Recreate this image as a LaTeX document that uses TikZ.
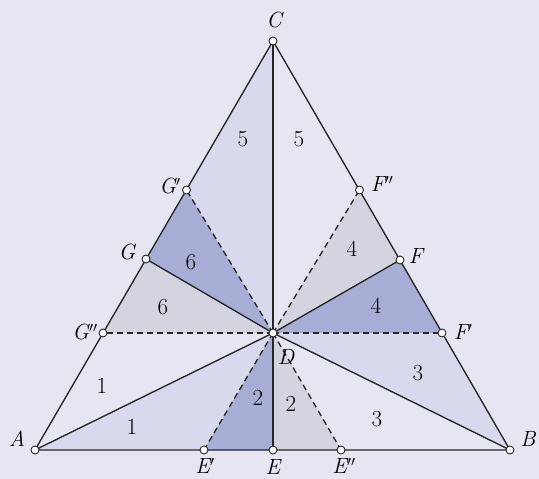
\documentclass[tikz,border=0pt]{standalone}
\usepackage{fontspec}
\begin{document}
\begin{tikzpicture}[x=1pt,y=-1pt,
  edge/.style={line width=1.35pt,black!85},
  dline/.style={line width=1.35pt,black!85,dash pattern=on 6pt off 4pt},
  pt/.style={circle,draw=black!85,line width=0.9pt,fill=white,inner sep=0pt,minimum size=8pt},
  lab/.style={font=\fontsize{22}{25}\selectfont\itshape,inner sep=0pt},
  num/.style={font=\fontsize{23}{26}\selectfont,inner sep=0pt}]
\definecolor{bgc}{HTML}{E5E6F2}
\definecolor{lav}{HTML}{D8D9EC}
\definecolor{dark}{HTML}{A8ADD5}
\definecolor{lgray}{HTML}{D3D4E0}
\fill[bgc] (0,0) rectangle (539,479);
\useasboundingbox (0,0) rectangle (539,479);
\coordinate (A) at (35,450);
\coordinate (B) at (510,450);
\coordinate (C) at (273,41);
\coordinate (D) at (273,333);
\coordinate (E) at (273,450);
\coordinate (E1) at (204,450);
\coordinate (E2) at (341,450);
\coordinate (G) at (146,259);
\coordinate (G1) at (186.5,190);
\coordinate (G2) at (103,333);
\coordinate (F) at (400,260);
\coordinate (F2) at (359.5,190);
\coordinate (F1) at (442,333);
% fills
\fill[lav] (C) -- (G1) -- (D) -- cycle;
\fill[dark] (G1) -- (G) -- (D) -- cycle;
\fill[lgray] (G) -- (G2) -- (D) -- cycle;
\fill[lav] (A) -- (E1) -- (D) -- cycle;
\fill[dark] (E1) -- (E) -- (D) -- cycle;
\fill[lgray] (E) -- (E2) -- (D) -- cycle;
\fill[lav] (B) -- (F1) -- (D) -- cycle;
\fill[dark] (F1) -- (F) -- (D) -- cycle;
\fill[lgray] (F) -- (F2) -- (D) -- cycle;
% lines
\draw[edge] (A) -- (B) -- (C) -- cycle;
\draw[edge] (D) -- (A);
\draw[edge] (D) -- (B);
\draw[edge] (D) -- (C);
\draw[edge] (D) -- (E);
\draw[edge] (D) -- (F);
\draw[edge] (D) -- (G);
\draw[dline] (D) -- (G1);
\draw[dline] (D) -- (G2);
\draw[dline] (D) -- (E1);
\draw[dline] (D) -- (E2);
\draw[dline] (D) -- (F1);
\draw[dline] (D) -- (F2);
% points
\foreach \p in {A,B,C,D,E,E1,E2,F,F1,F2,G,G1,G2}
  \node[pt] (n\p) at (\p) {};
% labels
\node[lab] (lC) at (274,20) {C};
\node[lab] (lA) at (17,439) {A};
\node[lab] (lB) at (528,439) {B};
\node[lab] (lD) at (286,357) {D};
\node[lab] (lE) at (273,467) {E};
\node[lab] (lE1) at (205,466) {E$'$};
\node[lab] (lE2) at (344,466) {E$''$};
\node[lab] (lG) at (127,252) {G};
\node[lab] (lG1) at (170,186) {G$'$};
\node[lab] (lG2) at (85,332) {G$''$};
\node[lab] (lF) at (416,256) {F};
\node[lab] (lF2) at (382,184) {F$''$};
\node[lab] (lF1) at (463,332) {F$'$};
% numbers
\node[num] (n5a) at (243,139) {5};
\node[num] (n5b) at (299,139) {5};
\node[num] (n6a) at (191,262) {6};
\node[num] (n6b) at (163,307) {6};
\node[num] (n4a) at (352,249) {4};
\node[num] (n4b) at (376,306) {4};
\node[num] (n1a) at (102,386) {1};
\node[num] (n1b) at (132,427) {1};
\node[num] (n2a) at (258,398) {2};
\node[num] (n2b) at (291,404) {2};
\node[num] (n3a) at (418,373) {3};
\node[num] (n3b) at (377,419) {3};
\end{tikzpicture}
\end{document}
